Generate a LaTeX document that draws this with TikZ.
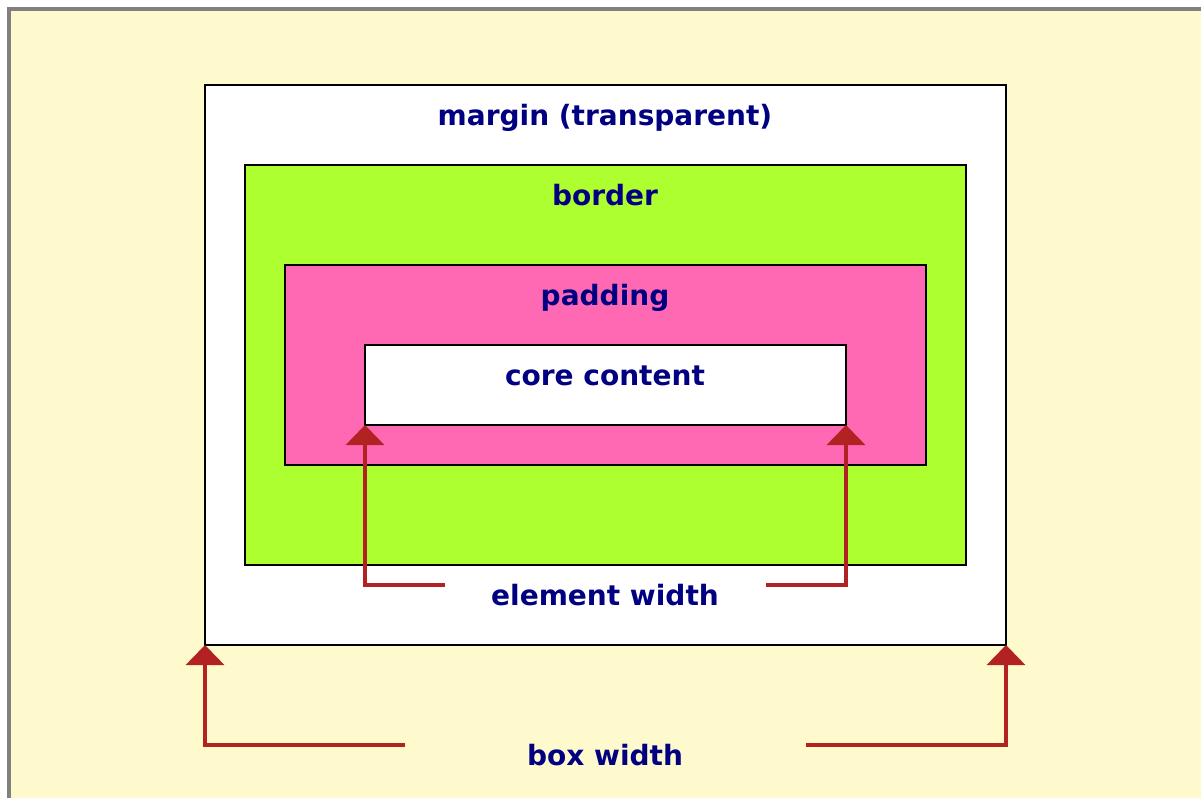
\documentclass[tikz,border=0pt]{standalone}
\usepackage{fontspec}
\setmainfont{DejaVu Sans}
\usetikzlibrary{arrows.meta}
\definecolor{bgyellow}{HTML}{FFFACD}
\definecolor{framegrey}{HTML}{808080}
\definecolor{bordergreen}{HTML}{ADFF2F}
\definecolor{paddingpink}{HTML}{FF69B4}
\definecolor{labelblue}{HTML}{000080}
\definecolor{arrowred}{HTML}{B22222}
\tikzset{
  box/.style={draw=black, line width=1.8pt, anchor=north west, inner sep=0pt, outer sep=0pt},
  lbl/.style={text=labelblue, font=\bfseries\fontsize{28}{32}\selectfont, inner sep=0pt, anchor=base},
  dimarrow/.style={draw=arrowred, line width=3.5pt, -{Triangle[length=20pt,width=38pt]}},
}
\begin{document}
\begin{tikzpicture}[x=1pt,y=-1pt]
\useasboundingbox (0,0) rectangle (1201,798);
\fill[white] (0,0) rectangle (1201,798);
\fill[framegrey] (7,7) rectangle (1201,798);
\fill[bgyellow] (11,11) rectangle (1201,798);
% boxes
\node[box, fill=white, minimum width=801pt, minimum height=560pt] (margin) at (205,85) {};
\node[box, fill=bordergreen, minimum width=721pt, minimum height=400pt] (border) at (245,165) {};
\node[box, fill=paddingpink, minimum width=641pt, minimum height=200pt] (padding) at (285,265) {};
\node[box, fill=white, minimum width=481pt, minimum height=80pt] (content) at (365,345) {};
% labels
\node[lbl] (tmargin) at (605,125) {margin (transparent)};
\node[lbl] (tborder) at (605,205) {border};
\node[lbl] (tpadding) at (605,305) {padding};
\node[lbl] (tcontent) at (605,385) {core content};
\node[lbl] (telement) at (605,605) {element width};
\node[lbl] (tbox) at (605,765) {box width};
% element width arrows
\coordinate (e1) at (445,585);
\coordinate (e1c) at (365,585);
\coordinate (e2) at (766,585);
\coordinate (e2c) at (846,585);
\draw[dimarrow] (e1) -- (e1c) -- (content.south west);
\draw[dimarrow] (e2) -- (e2c) -- (content.south east);
% box width arrows
\coordinate (b1) at (405,745);
\coordinate (b1c) at (205,745);
\coordinate (b2) at (806,745);
\coordinate (b2c) at (1006,745);
\draw[dimarrow] (b1) -- (b1c) -- (margin.south west);
\draw[dimarrow] (b2) -- (b2c) -- (margin.south east);
\end{tikzpicture}
\end{document}
